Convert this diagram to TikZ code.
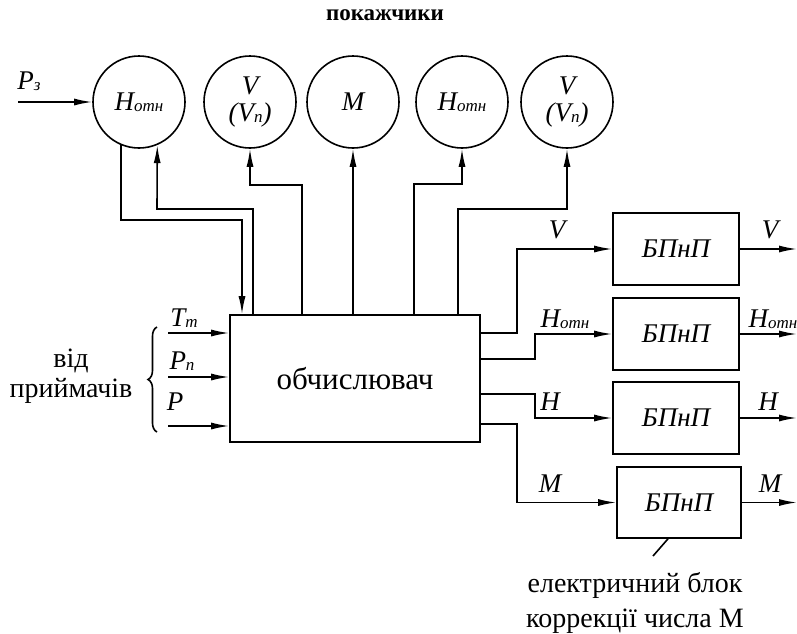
\documentclass[tikz,border=0pt]{standalone}
\usepackage{fontspec}
\setmainfont{Liberation Serif}
\newfontfamily\srf{Liberation Serif}
\usetikzlibrary{arrows.meta,decorations.pathreplacing,calc}
\newcommand{\Lb}{\srf\fontsize{27}{29}\selectfont\itshape}
\newcommand{\Sb}[1]{\raisebox{-1.5pt}{\srf\fontsize{17}{18}\selectfont\itshape #1}}
\begin{document}
\begin{tikzpicture}[x=1pt,y=1pt,
  ln/.style={line width=1.6pt},
  arr/.style={ln,-{Latex[length=18pt,width=7pt]}},
  ind/.style={draw,circle,ln,minimum size=92pt,inner sep=0pt,font=\Lb},
  blk/.style={draw,ln,minimum width=126pt,minimum height=72pt,inner sep=0pt,font=\Lb},
  lab/.style={font=\Lb,inner sep=0pt},
  txt/.style={font=\srf\fontsize{28}{30}\selectfont,inner sep=0pt,align=center}]
\useasboundingbox (0,0) rectangle (797,-633);
% title
\node[font=\srf\fontsize{23}{26}\selectfont\bfseries,inner sep=0pt] (title) at (385,-15) {покажчики};
% indicators
\node[ind] (c1) at (139,-102) {H\Sb{отн}};
\node[ind,align=center] (c2) at (250,-102) {V\\[-2pt](V\Sb{п})};
\node[ind] (c3) at (353,-102) {M};
\node[ind] (c4) at (462,-102) {H\Sb{отн}};
\node[ind,align=center] (c5) at (567,-102) {V\\[-2pt](V\Sb{п})};
% main computer
\node[draw,ln,minimum width=250pt,minimum height=127pt,inner sep=0pt,font=\srf\fontsize{31}{33}\selectfont] (comp) at (355,-378.5) {обчислювач};
% converter blocks
\node[blk] (b1) at (676,-249) {БПнП};
\node[blk] (b2) at (676,-334) {БПнП};
\node[blk] (b3) at (676,-418) {БПнП};
\node[blk,minimum width=124pt,minimum height=71pt] (b4) at (679,-502.5) {БПнП};
% P_z input
\coordinate (pz) at (18,-102);
\node[lab] (lpz) at (29,-81) {P\Sb{з}};
\draw[arr] (pz) -- (c1.west);
% connections between indicators and computer
\draw[arr] (c1.247) |- (242,-220) -- (comp.north -| 242,0);
\draw[arr] (comp.north -| 253,0) |- (157,-209) -- (c1.293);
\draw[arr] (comp.north -| 302,0) |- (250,-185) -- (c2.south);
\draw[arr] (comp.north -| c3.south) -- (c3.south);
\draw[arr] (comp.north -| 414,0) |- (462,-184) -- (c4.south);
\draw[arr] (comp.north -| 458,0) |- (567,-209) -- (c5.south);
% inputs from receivers
\coordinate (i1) at (168,-333);
\coordinate (i2) at (168,-377);
\coordinate (i3) at (168,-426);
\draw[arr] (i1) -- (comp.west |- i1);
\draw[arr] (i2) -- (comp.west |- i2);
\draw[arr] (i3) -- (comp.west |- i3);
\node[lab] (ltm) at (184,-318) {T\Sb{т}};
\node[lab] (lpn) at (182,-361) {P\Sb{п}};
\node[lab] (lp) at (175,-402) {P};
\coordinate (br1) at (157,-432);
\coordinate (br2) at (157,-327);
\draw[ln,decorate,decoration={brace,amplitude=9pt}] (br1) -- (br2);
\node[txt] (from) at (71,-376) {від\\[0pt]приймачів};
% outputs of computer to blocks
\draw[arr] (comp.east |- 0,-333) -- (517,-333) |- (b1.west);
\draw[arr] (comp.east |- 0,-359) -- (535,-359) |- (b2.west);
\draw[arr] (comp.east |- 0,-394) -- (535,-394) |- (b3.west);
\draw[arr] (comp.east |- 0,-424) -- (517,-424) |- (b4.west);
\node[lab] (lv) at (557,-230) {V};
\node[lab] (lh1) at (565,-319) {H\Sb{отн}};
\node[lab] (lh) at (550,-402) {H};
\node[lab] (lm) at (550,-484) {M};
% block outputs
\coordinate (o1) at (797,-249);
\coordinate (o2) at (797,-334);
\coordinate (o3) at (797,-418);
\coordinate (o4) at (797,-502.5);
\draw[arr] (b1.east) -- (o1);
\draw[arr] (b2.east) -- (o2);
\draw[arr] (b3.east) -- (o3);
\draw[arr] (b4.east) -- (o4);
\node[lab] (ov) at (770,-230) {V};
\node[lab] (oh1) at (773,-319) {H\Sb{отн}};
\node[lab] (oh) at (768,-402) {H};
\node[lab] (om) at (770,-484) {M};
% note
\coordinate (ptr) at (653,-556);
\draw[ln] ([xshift=-11pt]b4.south) -- (ptr);
\node[txt] (note) at (635,-603) {електричний блок\\[5pt]коррекції числа М};
\end{tikzpicture}
\end{document}
